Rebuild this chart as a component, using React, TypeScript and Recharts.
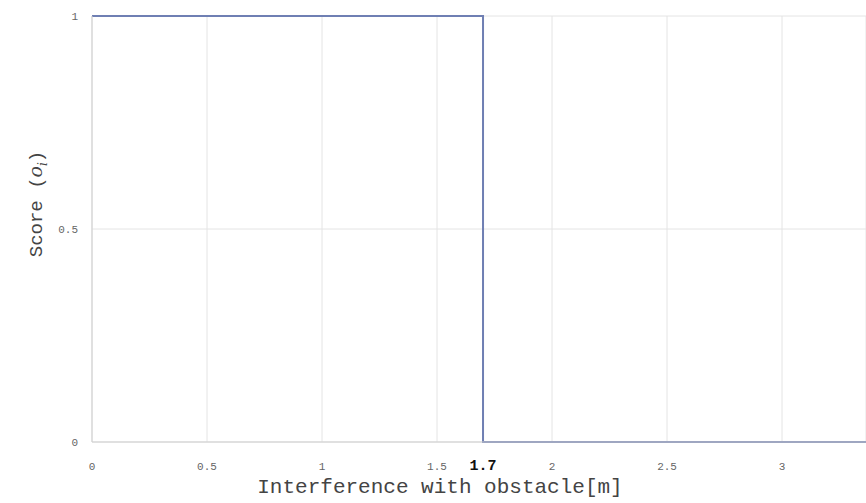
import React from "react";
import {
  LineChart,
  Line,
  XAxis,
  YAxis,
  CartesianGrid,
} from "recharts";

const distance = [0, 1.7, 1.7, 3.4];
const score = [1, 1, 0, 0];
const xTicks = [0, 0.5, 1, 1.5, 1.7, 2, 2.5, 3];
const yTicks = [0, 0.5, 1];
const threshold = 1.7;

const data = distance.map((d, i) => ({ x: d, y: score[i] }));

const FONT = "'Liberation Mono', 'DejaVu Sans Mono', monospace";

const XTick = (props: any) => {
  const { x, y, payload } = props;
  const v = payload.value as number;
  const hi = v === threshold;
  return (
    <text
      x={x}
      y={y + 20}
      textAnchor="middle"
      fontFamily={FONT}
      fontSize={hi ? 15 : 11}
      fontWeight={hi ? 700 : 400}
      fill={hi ? "#111" : "#666"}
    >
      {String(v)}
    </text>
  );
};

const YTick = (props: any) => {
  const { x, y, payload } = props;
  return (
    <text
      x={x - 6}
      y={y + 4}
      textAnchor="end"
      fontFamily={FONT}
      fontSize={11}
      fill="#666"
    >
      {String(payload.value)}
    </text>
  );
};

export default function App() {
  return (
    <div style={{ position: "absolute", left: 0, top: 0, width: 866, height: 503, background: "#fff" }}>
      <LineChart
        width={866}
        height={503}
        data={data}
        margin={{ top: 16, right: 0, bottom: 0, left: 0 }}
      >
        <CartesianGrid stroke="#e4e4e4" />
        <XAxis
          dataKey="x"
          type="number"
          domain={[0, 3.365]}
          allowDataOverflow
          ticks={xTicks}
          tick={<XTick />}
          tickLine={false}
          axisLine={{ stroke: "#cfcfcf" }}
          height={61}
        />
        <YAxis
          type="number"
          domain={[0, 1]}
          ticks={yTicks}
          tick={<YTick />}
          tickLine={false}
          axisLine={{ stroke: "#cfcfcf" }}
          width={92}
        />
        <Line
          type="linear"
          dataKey="y"
          stroke="#6f7fb3"
          strokeWidth={2}
          dot={false}
          isAnimationActive={false}
        />
        <text
          x={440}
          y={493}
          textAnchor="middle"
          fontFamily={FONT}
          fontSize={21}
          fill="#444"
        >
          Interference with obstacle[m]
        </text>
        <text
          transform="translate(42,204) rotate(-90)"
          textAnchor="middle"
          fontFamily={FONT}
          fontSize={19}
          fill="#444"
        >
          Score (
          <tspan fontFamily="'DejaVu Serif', serif" fontStyle="italic">o</tspan>
          <tspan fontFamily="'DejaVu Serif', serif" fontStyle="italic" fontSize={12} dy={5}>i</tspan>
          <tspan dy={-5}>)</tspan>
        </text>
      </LineChart>
    </div>
  );
}
